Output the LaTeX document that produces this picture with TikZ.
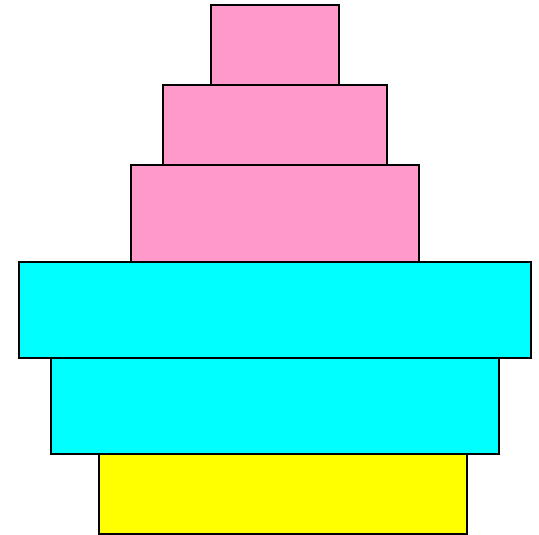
\documentclass[tikz,border=0pt]{standalone}
\definecolor{tierpink}{HTML}{FF99CC}
\definecolor{tiercyan}{HTML}{00FFFF}
\definecolor{tieryellow}{HTML}{FFFF00}
\usepackage{tikz}

\begin{document}
\begin{tikzpicture}[x=1pt,y=-1pt,
    tier/.style={draw=black,line width=2pt,line join=miter}]
  \useasboundingbox (0,0) rectangle (539,535);
  % Pink tiers
  \filldraw[tier,fill=tierpink] (211,5.5) rectangle (339,85.5);
  \filldraw[tier,fill=tierpink] (163,85.5) rectangle (387,165.5);
  \filldraw[tier,fill=tierpink] (131,165.5) rectangle (419,261.5);
  % Cyan tiers
  \filldraw[tier,fill=tiercyan] (19,261.5) rectangle (531,357.5);
  \filldraw[tier,fill=tiercyan] (51,357.5) rectangle (499,453.5);
  % Base
  \filldraw[tier,fill=tieryellow] (99,453.5) rectangle (467,533.5);
\end{tikzpicture}
\end{document}
